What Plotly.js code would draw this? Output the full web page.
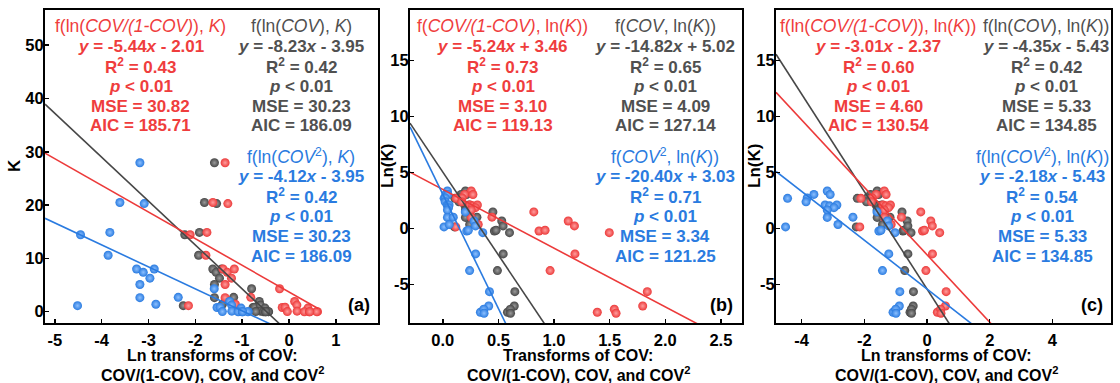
<!DOCTYPE html>
<html><head><meta charset="utf-8">
<script src="https://cdn.plot.ly/plotly-3.0.1.min.js"></script>
<style>html,body{margin:0;padding:0;background:#fff}#chart{width:1120px;height:383px}</style>
</head><body><div id="chart"></div>
<script>
// ---- readings: one sample per entry (COV and ln(K)) ----
const cov = [0.2035, 0.1644, 0.2131, 0.108, 0.1477, 0.145, 0.1965, 0.211, 0.2372, 0.2265,
             0.2035, 0.2035, 0.1046, 0.2414, 0.3065, 0.450, 0.4638, 0.479, 0.530, 0.542,
             0.5995, 0.543, 0.491, 0.6477, 0.6425, 0.5814, 0.6066, 0.609];
const lnK = [3.33, 3.02, 3.01, 2.67, 2.70, 2.36, 2.08, 2.00, 2.08, 1.84,
             1.63, 0.97, 0.12, 0.34, 0.99, 1.46, -0.24, -0.18, 0.65, 0.21,
             -0.39, -2.29, -3.78, -5.66, -6.94, -7.50, -7.23, -7.59];

// ---- fitted lines (series order: gray COV, red COV/(1-COV), blue COV^2) ----
const fitSlopes     = [[-8.23, -5.0, -4.12], [-14.82, -5.24, -20.40], [-4.35, -3.01, -2.18]];
const fitIntercepts = [[-3.95, 3.7, -3.95], [5.02, 3.46, 3.03], [-5.43, -2.37, -5.43]];
const fitXEnd       = [[null, 0.62, null], [null, null, null], [null, null, null]];

// ---- axis ranges & ticks ----
const xRanges = [[-5.21, 1.9], [-0.295, 2.69], [-4.82, 5.87]];
const yRanges = [[-2.12, 56.6], [-8.46, 19.49], [-8.46, 19.49]];
const xTickVals = [[-5, -4, -3, -2, -1, 0, 1], [0, 0.5, 1, 1.5, 2, 2.5], [-4, -2, 0, 2, 4]];
const xTickText = [["-5", "-4", "-3", "-2", "-1", "0", "1"], ["0.0", "0.5", "1.0", "1.5", "2.0", "2.5"], ["-4", "-2", "0", "2", "4"]];
const yTickVals = [[0, 10, 20, 30, 40, 50], [-5, 0, 5, 10, 15], [-5, 0, 5, 10, 15]];
const yTickText = [["0", "10", "20", "30", "40", "50"], ["-5", "0", "5", "10", "15"], ["-5", "0", "5", "10", "15"]];

// ---- label texts ----
const blockTitles = [
  ["f(ln(<i>COV</i>), <i>K</i>)", "f(ln(<i>COV/(1-COV)</i>), <i>K</i>)", "f(ln(<i>COV</i><sup>2</sup>), <i>K</i>)"],
  ["f(<i>COV</i>, ln(<i>K</i>))", "f(<i>COV/(1-COV)</i>, ln(<i>K</i>))", "f(<i>COV</i><sup>2</sup>, ln(<i>K</i>))"],
  ["f(ln(<i>COV</i>), ln(<i>K</i>))", "f(ln(<i>COV/(1-COV)</i>), ln(<i>K</i>))", "f(ln(<i>COV</i><sup>2</sup>), ln(<i>K</i>))"]
];
const eqSlopes = [["-8.23", "-5.44", "-4.12"], ["-14.82", "-5.24", "-20.40"], ["-4.35", "-3.01", "-2.18"]];
const eqIntercepts = [["- 3.95", "- 2.01", "- 3.95"], ["+ 5.02", "+ 3.46", "+ 3.03"], ["- 5.43", "- 2.37", "- 5.43"]];
const r2Values = [["0.42", "0.43", "0.42"], ["0.65", "0.73", "0.71"], ["0.42", "0.60", "0.54"]];
const mseValues = [["30.23", "30.82", "30.23"], ["4.09", "3.10", "3.34"], ["5.33", "4.60", "5.33"]];
const aicValues = [["186.09", "185.71", "186.09"], ["127.14", "119.13", "121.25"], ["134.85", "130.54", "134.85"]];
const panelLabels = ["(a)", "(b)", "(c)"];
const yTitles = ["K", "Ln(K)", "Ln(K)"];
const xTitles1 = ["Ln transforms of COV:", "Transforms of COV:", "Ln transforms of COV:"];
const xTitle2 = "COV/(1-COV), COV, and COV<sup>2</sup>";

// ---- styling ----
const W = 1120, H = 383;
const FONT = "Liberation Sans, Arial, sans-serif";
const colors = ["#474747", "#ec3a3a", "#2a7be0"];
const textColors = ["#505050", "#ef3d3d", "#2a7be0"];
const centerColors = ["#9a9a9a", "#ff9d9d", "#8cc0ff"];
const domX = [[45, 378], [410, 742], [776, 1111]];
const plotTop = 10, plotBottom = 323;
const blockCX = [[301, 140.5, 301], [665, 502.5, 665], [1046, 878, 1042]];
const blockTopY = [26, 26, 156];
const lineStep = 20;
const labelPos = [[372, 305], [735, 305], [1105, 305]];
const yTitleX = [15, 388, 755];
const xTitleCX = [212, 578, 946];

// transforms per panel for each series
const tf = [
  [c => Math.log(c), c => Math.log(c / (1 - c)), c => Math.log(c * c)],
  [c => c, c => c / (1 - c), c => c * c],
  [c => Math.log(c), c => Math.log(c / (1 - c)), c => Math.log(c * c)]
];

const traces = [];
const drawOrder = [0, 1, 2];
for (let p = 0; p < 3; p++) {
  const xa = p === 0 ? 'x' : 'x' + (p + 1), ya = p === 0 ? 'y' : 'y' + (p + 1);
  const yv = p === 0 ? lnK.map(v => Math.exp(v)) : lnK.slice();
  for (const s of drawOrder) {
    traces.push({
      type: 'scatter', mode: 'markers', xaxis: xa, yaxis: ya, showlegend: false, hoverinfo: 'skip',
      x: cov.map(tf[p][s]), y: yv,
      marker: {size: 9, color: colors[s], line: {width: 0}, gradient: {type: 'radial', color: centerColors[s]}}
    });
  }
  for (const s of drawOrder) {
    const x0 = xRanges[p][0], x1 = fitXEnd[p][s] !== null ? fitXEnd[p][s] : xRanges[p][1];
    traces.push({
      type: 'scatter', mode: 'lines', xaxis: xa, yaxis: ya, showlegend: false, hoverinfo: 'skip',
      x: [x0, x1], y: [fitSlopes[p][s] * x0 + fitIntercepts[p][s], fitSlopes[p][s] * x1 + fitIntercepts[p][s]],
      line: {color: colors[s], width: 1.6}
    });
  }
}

const layout = {
  width: W, height: H, margin: {l: 0, r: 0, t: 0, b: 0},
  paper_bgcolor: '#fff', plot_bgcolor: '#fff', showlegend: false,
  annotations: []
};
for (let p = 0; p < 3; p++) {
  const axCommon = {
    showline: true, linewidth: 2, linecolor: '#000', mirror: true,
    ticks: 'inside', ticklen: 4, tickwidth: 1.5, tickcolor: '#000',
    showgrid: false, zeroline: false, tickmode: 'array',
    tickfont: {family: FONT, size: 16.5, color: '#000', weight: 'bold'}
  };
  const sx = p === 0 ? '' : String(p + 1);
  layout['xaxis' + sx] = Object.assign({}, axCommon, {
    domain: [domX[p][0] / W, domX[p][1] / W], range: xRanges[p], anchor: 'y' + sx,
    tickvals: xTickVals[p], ticktext: xTickText[p], ticklabelstandoff: 1
  });
  layout['yaxis' + sx] = Object.assign({}, axCommon, {
    domain: [1 - plotBottom / H, 1 - plotTop / H], range: yRanges[p], anchor: 'x' + sx,
    tickvals: yTickVals[p], ticktext: yTickText[p], ticklabelstandoff: -4
  });
}

function ann(px, py, text, color, size, opts, weight) {
  return Object.assign({
    xref: 'paper', yref: 'paper', x: px / W, y: 1 - py / H, text: text, showarrow: false,
    xanchor: 'center', yanchor: 'middle',
    font: {family: FONT, size: size, color: color, weight: weight || 'bold'}
  }, opts || {});
}

for (let p = 0; p < 3; p++) {
  for (let s = 0; s < 3; s++) {
    const lines = [
      blockTitles[p][s],
      "<i>y</i> = " + eqSlopes[p][s] + "<i>x</i> " + eqIntercepts[p][s],
      "R<sup>2</sup> = " + r2Values[p][s],
      "<i>p</i> &lt; 0.01",
      "MSE = " + mseValues[p][s],
      "AIC = " + aicValues[p][s]
    ];
    lines.forEach((t, i) => {
      layout.annotations.push(ann(blockCX[p][s], blockTopY[s] + i * lineStep, t, textColors[s],
        i === 0 ? 17.5 : 17, null, i === 0 ? 'normal' : 'bold'));
    });
  }
  layout.annotations.push(ann(labelPos[p][0], labelPos[p][1], panelLabels[p], '#000', 18, {xanchor: 'right'}));
  layout.annotations.push(ann(yTitleX[p], 166, yTitles[p], '#000', 17, {textangle: -90}));
  layout.annotations.push(ann(xTitleCX[p], 355, xTitles1[p], '#000', 16));
  layout.annotations.push(ann(xTitleCX[p], 374, xTitle2, '#000', 16));
}

Plotly.newPlot('chart', traces, layout, {staticPlot: true, displayModeBar: false});
</script></body></html>
